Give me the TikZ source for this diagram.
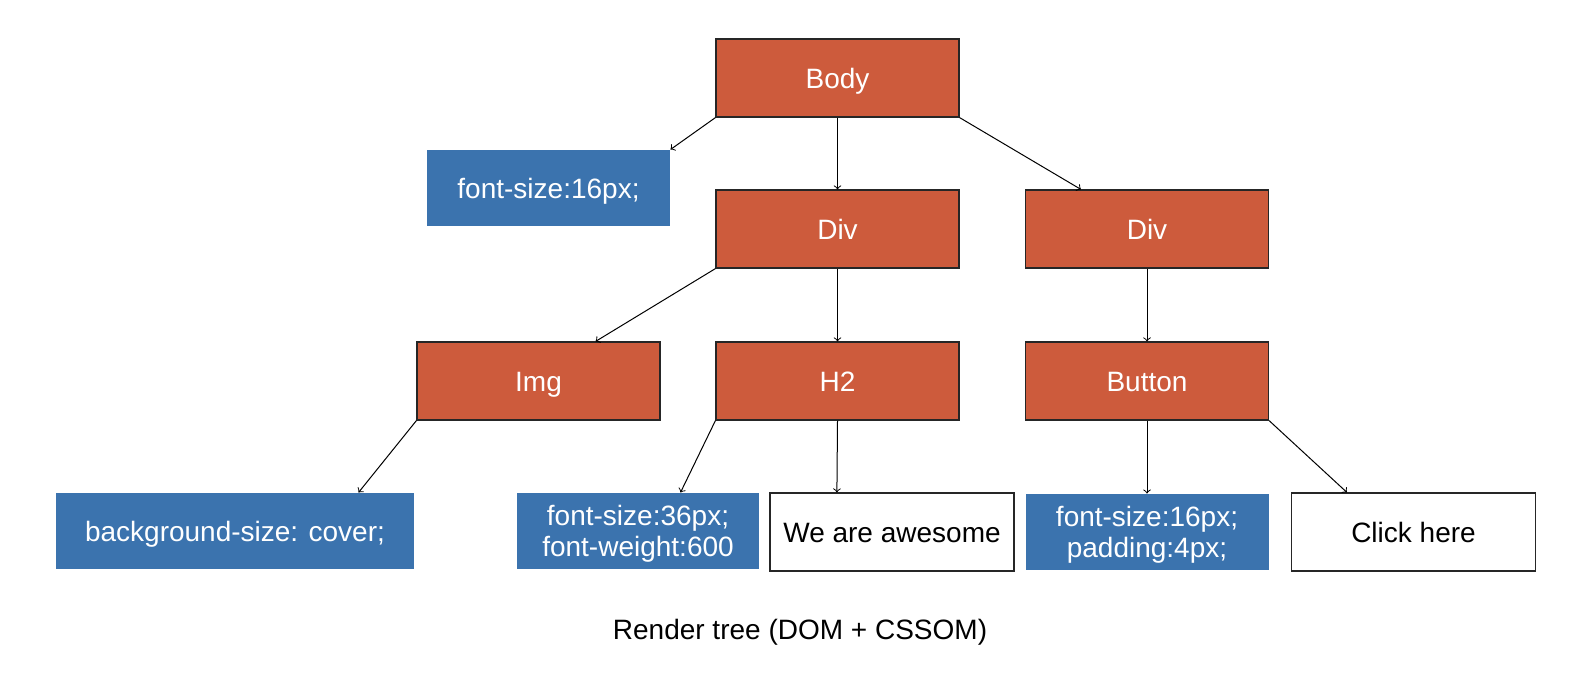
\documentclass[tikz,border=0pt]{standalone}
\usepackage{fontspec}
\setmainfont{Liberation Sans}
\definecolor{domred}{RGB}{205,91,60}
\definecolor{cssblue}{RGB}{59,115,174}
\tikzset{
    dom/.style = {draw = black!85, line width = 0.6pt, fill = domred, text = white,
                  minimum width = 121.5pt, minimum height = 39pt, inner sep = 0pt,
                  text height = 10pt, text depth = 0pt},
    css/.style = {fill = cssblue, text = white, align = center,
                  minimum height = 38pt, inner sep = 0pt,
                  text height = 10pt, text depth = 0pt},
    csstwo/.style = {css, text height = 25.3pt},
    txt/.style = {draw = black!85, line width = 0.6pt, fill = white,
                  minimum width = 122pt, minimum height = 39pt, inner sep = 0pt,
                  text height = 10pt, text depth = 0pt}
}
\begin{document}
\begin{tikzpicture}[x = 0.5pt, y = -0.5pt, font = \fontsize{14}{15.25}\selectfont, line width = 0.5pt]
                    \useasboundingbox (0, 0) rectangle (1594, 686);

                    \node[dom] (1) at ( 837.5,  78) {Body};
                    \node[css, minimum width = 121.5pt] (2) at ( 548.5, 188) {font-size:16px;};
                    \node[dom] (3) at ( 837.5, 229) {Div};
                    \node[dom] (4) at (1147,   229) {Div};
                    \node[dom] (5) at ( 538.5, 381) {Img};
                    \node[dom] (6) at ( 837.5, 381) {H2};
                    \node[dom] (7) at (1147,   381) {Button};
                    \node[css, minimum width = 179pt] (8) at ( 235, 531) {background-size: cover;};
                    \node[csstwo, minimum width = 121pt] (9) at ( 638, 531) {font-size:36px;\\font-weight:600};
                    \node[txt] (10) at ( 892, 532) {We are awesome};
                    \node[csstwo, minimum width = 121.5pt] (11) at (1147, 532) {font-size:16px;\\padding:4px;};
                    \node[txt] (12) at (1413.5, 532) {Click here};

                    \node (13) at (800, 632) {Render tree (DOM + CSSOM)};

                    \draw[->] (1.south west) -- (2.north east);
                    \draw[->] (1) -- (3);
                    \draw[->] (1.south east) -- ([xshift = 28pt]4.north west);

                    \draw[->] (3.south west) -- ([xshift = -32.5pt]5.north east);
                    \draw[->] (3) -- (6);
                    \draw[->] (4) -- (7);

                    \draw[->] (5.south west) -- ([xshift = -28pt]8.north east);
                    \draw[->] (6.south west) -- ([xshift = -39.5pt]9.north east);
                    \draw[->] (6.south) -- ([xshift = 33.75pt]10.north west);
                    \draw[->] (7) -- (11);
                    \draw[->] (7.south east) -- ([xshift = 28pt]12.north west);
                \end{tikzpicture}
\end{document}
